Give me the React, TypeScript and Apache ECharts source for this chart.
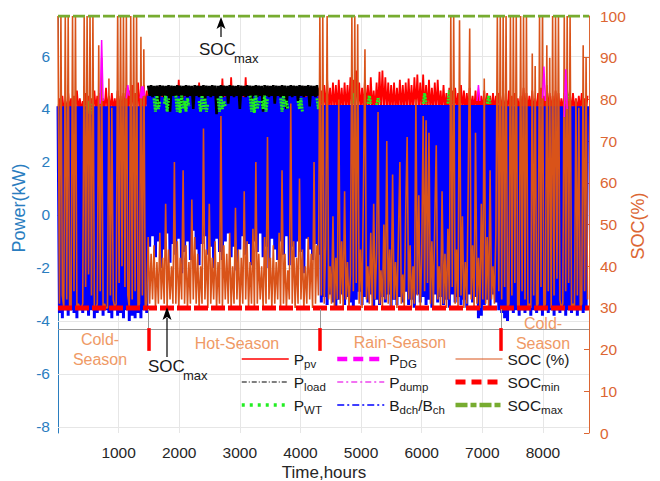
import React, { useEffect, useRef } from "react";
import * as echarts from "echarts";

// ---------- data (one value per day, 24 h step) ----------
const STEP_HOURS = 24;
const X_MAX = 8760;
const DAY_COLD1 = 0;
const DAY_HOT = 62;
const DAY_RAIN = 180;
const DAY_COLD2 = 304;

const xTicks = [1000, 2000, 3000, 4000, 5000, 6000, 7000, 8000];
const leftTicks = [-8, -6, -4, -2, 0, 2, 4, 6];
const seasonBoundaries = [1490, 4325, 7310];

// SOC (%) right axis
const socCold1 = [
  100, 31, 100, 33, 30, 100, 32, 100, 30, 30,
  100, 34, 100, 30, 31, 30, 30, 31, 100, 35,
  100, 38, 100, 33, 100, 30, 30, 31, 93, 34,
  90, 30, 31, 30, 30, 85, 33, 78, 32, 30,
  31, 100, 36, 100, 40, 100, 35, 100, 33, 30,
  100, 32, 100, 34, 100, 30, 31, 95, 33, 92,
  30, 31,
];
const socHot = [
  47, 31, 43, 32, 45, 30, 41, 31, 48, 32,
  42, 31, 55, 30, 44, 32, 40, 31, 65, 31,
  46, 30, 42, 32, 63, 31, 45, 30, 41, 31,
  56, 32, 47, 31, 43, 30, 40, 31, 73, 32,
  44, 30, 55, 31, 42, 32, 46, 30, 41, 31,
  76, 30, 45, 32, 43, 31, 48, 30, 40, 31,
  54, 32, 44, 30, 42, 31, 58, 32, 46, 30,
  41, 31, 49, 30, 65, 31, 43, 32, 40, 30,
  47, 31, 71, 32, 42, 30, 45, 31, 41, 32,
  48, 30, 63, 31, 43, 30, 39, 32, 79, 31,
  46, 30, 42, 31, 61, 32, 44, 30, 40, 31,
  47, 32, 43, 30, 65, 31, 45, 33,
];
const socRain = [
  100, 33, 100, 31, 45, 100, 32, 40, 31, 52,
  30, 42, 32, 80, 31, 46, 30, 58, 32, 41,
  30, 38, 100, 34, 100, 36, 98, 31, 44, 30,
  60, 92, 32, 40, 31, 48, 30, 55, 32, 43,
  77, 31, 39, 30, 50, 32, 70, 31, 44, 30,
  62, 32, 41, 30, 47, 65, 31, 38, 30, 53,
  71, 32, 45, 30, 40, 31, 80, 33, 57, 30,
  42, 76, 34, 75, 36, 72, 31, 46, 30, 51,
  69, 32, 40, 30, 58, 31, 43, 30, 49, 32,
  100, 35, 100, 31, 44, 30, 99, 33, 52, 30,
  41, 31, 60, 97, 32, 45, 30, 72, 31, 42,
  30, 55, 32, 85, 31, 47, 30, 63, 32, 40,
  31, 48, 100, 34,
];
const socCold2 = [
  100, 32, 100, 35, 100, 30, 31, 100, 33, 100,
  36, 100, 30, 30, 100, 34, 100, 32, 100, 30,
  31, 30, 91, 33, 88, 30, 31, 100, 35, 100,
  30, 31, 93, 34, 90, 30, 100, 33, 100, 37,
  100, 32, 30, 31, 100, 34, 100, 36, 100, 30,
  31, 30, 80, 33, 78, 30, 31, 93, 34, 90,
  32,
];

// Battery discharge / charge (kW)
const batCold1 = [
  4.1, -3.7, 4.1, -3.9, 4.1, -3.6, 4.1, -3.8, 4.1, -3.6,
  4.1, -3.7, 4.1, -3.9, 4.1, -3.6, 4.1, -3.7, 4.1, -3.6,
  4.1, -3.8, 4.1, -3.6, 4.1, -3.9, 4.1, -3.7, 4.1, -3.6,
  4.1, -3.8, 4.1, -3.6, 4.1, -3.7, 4.1, -3.9, 4.1, -3.6,
  4.1, -3.8, 4.1, -3.7, 4.1, -3.9, 4.1, -3.6, 4.1, -4.0,
  4.1, -3.8, 4.1, -3.9, 4.1, -3.7, 4.1, -3.9, 4.1, -3.6,
  4.1, -3.7,
];
const batHot = [
  4.5, -1.2, 4.55, -0.8, 4.5, -1.6, 4.6, -1.0, 4.5, -2.0,
  4.45, -1.3, 4.5, -0.7, 4.55, -1.8, 4.5, -1.1, 4.6, -1.5,
  4.5, -0.9, 4.5, -2.2, 4.45, -1.4, 4.5, -1.0, 4.55, -1.7,
  4.5, -0.6, 4.6, -1.3, 4.5, -1.9, 4.5, -1.1, 4.45, -0.8,
  4.5, -1.5, 4.55, -1.2, 4.5, -2.0, 4.6, -0.9, 4.5, -1.4,
  4.5, -1.7, 4.45, -1.0, 4.5, -0.7, 4.55, -1.6, 4.5, -1.2,
  4.6, -2.1, 4.5, -1.3, 4.5, -0.8, 4.45, -1.5, 4.5, -1.1,
  4.55, -1.9, 4.5, -1.0, 4.6, -1.4, 4.5, -0.7, 4.5, -1.6,
  4.45, -1.2, 4.5, -2.0, 4.55, -0.9, 4.5, -1.3, 4.6, -1.7,
  4.5, -1.0, 4.5, -1.5, 4.45, -0.8, 4.5, -1.9, 4.55, -1.2,
  4.5, -1.6, 4.6, -1.0, 4.5, -1.4, 4.5, -2.2, 4.45, -0.9,
  4.5, -1.3, 4.55, -1.7, 4.5, -1.1, 4.5, -1.5,
];
const batRain = [
  4.15, -3.3, 4.15, -3.1, 4.15, -3.4, 4.15, -3.0, 4.15, -3.3,
  4.15, -3.5, 4.15, -3.2, 4.15, -3.0, 4.15, -3.4, 4.15, -3.1,
  4.15, -3.3, 4.15, -3.5, 4.15, -3.2, 4.15, -2.9, 4.15, -3.4,
  4.15, -3.1, 4.15, -3.3, 4.15, -3.0, 4.15, -3.5, 4.15, -3.2,
  4.15, -3.4, 4.15, -3.1, 4.15, -3.3, 4.15, -3.0, 4.15, -3.5,
  4.15, -3.2, 4.15, -3.4, 4.15, -3.1, 4.15, -3.3, 4.15, -2.9,
  4.15, -3.4, 4.15, -3.2, 4.15, -3.5, 4.15, -3.0, 4.15, -3.3,
  4.15, -3.1, 4.15, -3.4, 4.15, -3.2, 4.15, -3.5, 4.15, -3.0,
  4.15, -3.3, 4.15, -3.1, 4.15, -3.4, 4.15, -3.2, 4.15, -3.5,
  4.15, -3.0, 4.15, -3.3, 4.15, -3.1, 4.15, -3.4, 4.15, -3.2,
  4.15, -3.5, 4.15, -3.0, 4.15, -3.3, 4.15, -3.1, 4.15, -3.9,
  4.15, -3.8, 4.15, -3.4, 4.15, -3.2, 4.15, -3.5, 4.15, -3.0,
  4.15, -3.3, 4.15, -3.6,
];
const batCold2 = [
  4.1, -3.7, 4.1, -3.9, 4.1, -4.0, 4.1, -3.6, 4.1, -3.7,
  4.1, -3.6, 4.1, -3.8, 4.1, -3.6, 4.1, -3.7, 4.1, -3.6,
  4.1, -3.8, 4.1, -3.6, 4.1, -3.7, 4.1, -3.6, 4.1, -3.8,
  4.1, -3.6, 4.1, -3.7, 4.1, -3.6, 4.1, -3.8, 4.1, -3.6,
  4.1, -3.7, 4.1, -3.6, 4.1, -3.8, 4.1, -3.6, 4.1, -3.7,
  4.1, -3.6, 4.1, -3.8, 4.1, -3.6, 4.1, -3.7, 4.1, -3.6,
  4.1,
];

// PV power (kW)
const pvCold1 = [
  3.9, 4.4, 3.9, 4.5, 3.9, 4.3, 3.9, 4.6, 3.9, 4.4,
  3.9, 4.5, 3.9, 4.7, 3.9, 4.4, 3.9, 4.3, 3.9, 4.6,
  3.9, 4.5, 3.9, 4.4, 3.9, 4.7, 3.9, 4.5, 3.9, 4.6,
  3.9, 4.4, 3.9, 4.8, 3.9, 4.5, 3.9, 4.6, 3.9, 4.4,
  3.9, 4.7, 3.9, 4.5, 3.9, 4.6, 3.9, 4.8, 3.9, 4.7,
  3.9, 4.9, 3.9, 4.6, 3.9, 5.0, 3.9, 4.8, 3.9, 4.9,
  3.9, 4.7,
];
const pvHot = [
  3.9, 4.8, 3.9, 4.75, 3.9, 4.8, 3.9, 4.85, 3.9, 4.8,
  3.9, 4.75, 3.9, 4.8, 3.9, 4.85, 3.9, 4.8, 3.9, 4.75,
  3.9, 5.1, 3.9, 4.8, 3.9, 4.85, 3.9, 4.8, 3.9, 4.75,
  3.9, 4.8, 3.9, 4.85, 3.9, 5.0, 3.9, 4.8, 3.9, 4.75,
  3.9, 4.8, 3.9, 4.85, 3.9, 4.8, 3.9, 4.75, 3.9, 4.8,
  3.9, 5.15, 3.9, 4.8, 3.9, 4.85, 3.9, 5.2, 3.9, 4.8,
  3.9, 4.75, 3.9, 4.8, 3.9, 4.85, 3.9, 5.2, 3.9, 4.8,
  3.9, 4.75, 3.9, 4.8, 3.9, 4.85, 3.9, 4.8, 3.9, 4.75,
  3.9, 4.8, 3.9, 4.85, 3.9, 4.8, 3.9, 4.75, 3.9, 4.8,
  3.9, 4.85, 3.9, 4.8, 3.9, 4.75, 3.9, 4.8, 3.9, 4.85,
  3.9, 4.8, 3.9, 4.75, 3.9, 4.8, 3.9, 4.85, 3.9, 4.8,
  3.9, 4.75, 3.9, 4.8, 3.9, 4.85, 3.9, 4.8,
];
const pvRain = [
  3.9, 4.7, 3.9, 4.9, 3.9, 5.1, 3.9, 4.8, 3.9, 5.0,
  3.9, 4.9, 3.9, 5.1, 3.9, 4.8, 3.9, 5.0, 3.9, 4.9,
  3.9, 5.2, 3.9, 5.1, 3.9, 5.45, 3.9, 5.0, 3.9, 4.8,
  3.9, 5.1, 3.9, 4.9, 3.9, 5.2, 3.9, 4.7, 3.9, 5.0,
  3.9, 5.4, 3.9, 5.45, 3.9, 5.2, 3.9, 5.0, 3.9, 4.9,
  3.9, 5.0, 3.9, 4.8, 3.9, 5.1, 3.9, 4.9, 3.9, 5.0,
  3.9, 5.15, 3.9, 4.9, 3.9, 5.2, 3.9, 5.3, 3.9, 5.0,
  3.9, 5.3, 3.9, 4.9, 3.9, 5.1, 3.9, 4.8, 3.9, 5.0,
  3.9, 5.1, 3.9, 4.7, 3.9, 4.9, 3.9, 4.6, 3.9, 4.8,
  3.9, 4.7, 3.9, 4.8, 3.9, 4.6, 3.9, 4.9, 3.9, 4.7,
  3.9, 4.6, 3.9, 4.8, 3.9, 4.5, 3.9, 4.7, 3.9, 4.6,
  3.9, 4.5, 3.9, 4.7, 3.9, 4.6, 3.9, 4.5, 3.9, 4.6,
  3.9, 4.5, 3.9, 4.6,
];
const pvCold2 = [
  4.5, 3.9, 4.6, 3.9, 4.4, 3.9, 4.7, 3.9, 4.5, 3.9,
  4.6, 3.9, 4.4, 3.9, 4.5, 3.9, 4.8, 3.9, 4.6, 3.9,
  4.5, 3.9, 4.7, 3.9, 4.4, 3.9, 4.6, 3.9, 4.8, 3.9,
  4.5, 3.9, 4.9, 3.9, 4.6, 3.9, 4.5, 3.9, 4.7, 3.9,
  4.6, 3.9, 4.4, 3.9, 4.6, 3.9, 4.7, 3.9, 4.5, 3.9,
  4.6, 3.9, 4.4, 3.9, 4.5, 3.9, 4.6, 3.9, 4.4, 3.9,
  4.5,
];

// Load (kW), visible during the hot season
const loadHot = [
  4.88, 4.5, 4.9, 4.45, 4.87, 4.5, 4.88, 4.1, 4.9, 4.5,
  4.88, 4.45, 4.87, 4.5, 4.9, 3.9, 4.88, 4.5, 4.87, 4.45,
  4.9, 4.5, 4.88, 4.2, 4.87, 4.5, 4.9, 4.45, 4.88, 4.5,
  4.87, 4.0, 4.9, 4.5, 4.88, 4.45, 4.87, 4.5, 4.9, 4.3,
  4.88, 4.5, 4.87, 4.45, 4.9, 4.5, 4.88, 3.8, 4.87, 4.5,
  4.9, 4.45, 4.88, 4.5, 4.87, 4.2, 4.9, 4.5, 4.88, 4.45,
  4.87, 4.5, 4.9, 4.0, 4.88, 4.5, 4.87, 4.45, 4.9, 4.5,
  4.88, 4.3, 4.87, 4.5, 4.9, 4.45, 4.88, 4.5, 4.87, 3.9,
  4.9, 4.5, 4.88, 4.45, 4.87, 4.5, 4.9, 4.2, 4.88, 4.5,
  4.87, 4.45, 4.9, 4.5, 4.88, 4.0, 4.87, 4.5, 4.9, 4.45,
  4.88, 4.5, 4.87, 4.3, 4.9, 4.5, 4.88, 4.45, 4.87, 4.5,
  4.9, 4.1, 4.88, 4.5, 4.87, 4.45, 4.9, 4.5,
];

// Wind power (kW): [start day, daily values]
const pwtSegments: [number, number[]][] = [
  [20, [3.9, 4.3, 3.8, 4.2]],
  [66, [4.4, 3.9, 4.5, 4.0, 4.3]],
  [73, [4.2, 4.5, 3.9, 4.4]],
  [81, [4.5, 3.9, 4.4, 3.85, 4.5, 4.0, 4.3, 3.9, 4.4, 4.1]],
  [97, [4.3, 3.9, 4.5, 4.0, 4.4, 3.9, 4.2]],
  [110, [4.4, 3.9, 4.5, 4.0, 4.3, 4.1]],
  [132, [4.5, 3.9, 4.4, 3.85, 4.5, 4.0, 4.3]],
  [140, [4.3, 4.0, 4.5, 3.9, 4.4]],
  [153, [4.4, 3.9, 4.5, 4.1, 4.3, 4.0]],
  [165, [4.3, 4.0, 4.4, 3.9]],
  [178, [4.4, 4.0, 4.3]],
  [202, [4.2, 4.6, 4.2]],
  [213, [4.2, 4.5, 4.2]],
  [219, [4.15, 4.4, 4.2]],
  [251, [4.2, 4.6, 4.2]],
  [268, [4.2, 4.7, 4.25]],
  [295, [4.2, 4.5, 4.2]],
  [349, [4.2, 4.6, 4.3]],
];
// Dump load and diesel generator (kW)
const dumpSegments: [number, number[]][] = [
  [29, [4.2, 6.6, 4.3]],
  [47, [4.4, 4.9, 4.5]],
  [288, [4.3, 4.9, 4.3]],
  [333, [4.4, 5.6, 4.3]],
  [348, [3.7, 5.5, 4.0]],
];
const dgSegments: [number, number[]][] = [[57, [4.4, 4.85, 4.5]]];

const socMinValue = 30;
const socMaxValue = 100;

// ---------- helpers ----------
function toSeries(startDay: number, values: number[]) {
  return values.map((v, i) => [(startDay + i) * STEP_HOURS, v]);
}
function fromSegments(segs: [number, number[]][]) {
  const out: any[] = [];
  segs.forEach(([d, vals], k) => {
    if (k > 0) out.push([d * STEP_HOURS - STEP_HOURS / 2, "-"]);
    vals.forEach((v, i) => out.push([(d + i) * STEP_HOURS, v]));
  });
  return out;
}

const FONT = '"Liberation Sans", Arial, Helvetica, sans-serif';
const LEFT_COLOR = "#2a7dbf";
const RIGHT_COLOR = "#dc6633";
const SEASON_COLOR = "#ef9a66";

const legendNames: Record<string, string> = {
  Ppv: "{m|P}{s|pv}",
  Pload: "{m|P}{s|load}",
  PWT: "{m|P}{s|WT}",
  PDG: "{m|P}{s|DG}",
  Pdump: "{m|P}{s|dump}",
  Bdch: "{m|B}{s|dch}{m|/B}{s|ch}",
  SOC: "{m|SOC (%)}{s| }",
  SOCmin: "{m|SOC}{s|min}",
  SOCmax: "{m|SOC}{s|max}",
};

export default function App() {
  const ref = useRef<HTMLDivElement>(null);

  useEffect(() => {
    document.body.style.margin = "0";
    if (!ref.current) return;
    const chart = echarts.init(ref.current, undefined, { renderer: "svg" });

    const socData = [
      ...toSeries(DAY_COLD1, socCold1),
      ...toSeries(DAY_HOT, socHot),
      ...toSeries(DAY_RAIN, socRain),
      ...toSeries(DAY_COLD2, socCold2),
    ];
    const batData = [
      ...toSeries(DAY_COLD1, batCold1),
      ...toSeries(DAY_HOT, batHot),
      ...toSeries(DAY_RAIN, batRain),
      ...toSeries(DAY_COLD2, batCold2),
    ];
    const pvData = [
      ...toSeries(DAY_COLD1, pvCold1),
      ...toSeries(DAY_HOT, pvHot),
      ...toSeries(DAY_RAIN, pvRain),
      ...toSeries(DAY_COLD2, pvCold2),
    ];
    const loadData = toSeries(DAY_HOT, loadHot);

    const rich = {
      m: { fontSize: 15.5, color: "#1a1a1a", lineHeight: 16, fontFamily: FONT },
      s: { fontSize: 11.5, color: "#1a1a1a", lineHeight: 16, padding: [10, 0, 0, 0], fontFamily: FONT },
    };
    const hideSymbol = { opacity: 0, borderWidth: 0 };
    const mkLegend = (left: number, items: any[]) => ({
      left,
      top: 348,
      orient: "vertical",
      padding: 0,
      itemWidth: 47,
      itemHeight: 14,
      itemGap: 1,
      selectedMode: false,
      data: items.map((it) => ({ ...it, itemStyle: hideSymbol })),
      formatter: (n: string) => legendNames[n] || n,
      textStyle: { rich, fontFamily: FONT },
    });

    const base = (name: string, data: any[], color: string, width: number, yAxisIndex = 0, extra: any = {}) => ({
      name,
      type: "line",
      data,
      yAxisIndex,
      symbol: "none",
      showSymbol: false,
      silent: true,
      animation: false,
      emphasis: { disabled: true },
      lineStyle: { color, width },
      itemStyle: { color },
      ...extra,
    });

    const txt = (text: string, x: number, y: number, size: number, color: string, align = "center", rotation = 0) => ({
      type: "text",
      x,
      y,
      rotation,
      z: 100,
      silent: true,
      style: {
        text,
        fill: color,
        font: `${size}px ${FONT}`,
        align,
        verticalAlign: "middle",
        textAlign: align,
        textVerticalAlign: "middle",
      },
    });

    const option: any = {
      animation: false,
      textStyle: { fontFamily: FONT },
      grid: { left: 58, right: 71, top: 16, bottom: 48 },
      xAxis: {
        type: "value",
        min: 0,
        max: X_MAX,
        interval: 1000,
        axisLine: { lineStyle: { color: "#8c8c8c" } },
        axisTick: { inside: true, length: 5, customValues: xTicks, lineStyle: { color: "#777" } },
        axisLabel: {
          customValues: xTicks,
          color: "#262626",
          fontSize: 15.5,
          margin: 11,
          formatter: (v: number) => String(v),
        },
        splitLine: { show: true, lineStyle: { color: "#e6e6e6", width: 1 } },
      },
      yAxis: [
        {
          type: "value",
          min: -8.23,
          max: 7.51,
          position: "left",
          axisLine: { show: true, lineStyle: { color: LEFT_COLOR } },
          axisTick: { show: true, inside: true, length: 5, customValues: leftTicks, lineStyle: { color: LEFT_COLOR } },
          axisLabel: { customValues: leftTicks, color: LEFT_COLOR, fontSize: 15.5, margin: 8 },
          splitLine: { show: false },
        },
        {
          type: "value",
          min: 0,
          max: 100,
          interval: 10,
          position: "right",
          axisLine: { show: true, lineStyle: { color: RIGHT_COLOR } },
          axisTick: { show: true, inside: true, length: 5, lineStyle: { color: RIGHT_COLOR } },
          axisLabel: { color: RIGHT_COLOR, fontSize: 15.5, margin: 11 },
          splitLine: { show: false },
        },
      ],
      legend: [
        mkLegend(240, [
          { name: "Ppv", lineStyle: { color: "#ff0000", width: 1.6, type: "solid" } },
          { name: "Pload", lineStyle: { color: "#000000", width: 1.2, type: [5, 2, 1, 2] } },
          { name: "PWT", lineStyle: { color: "#22ee22", width: 3.5, type: [3, 5] } },
        ]),
        mkLegend(335, [
          { name: "PDG", lineStyle: { color: "#ff00ff", width: 4.5, type: [10, 6] } },
          { name: "Pdump", lineStyle: { color: "#ee44ee", width: 1.5, type: [6, 3, 2, 3] } },
          { name: "Bdch", lineStyle: { color: "#0000ff", width: 1.5, type: [7, 3, 2, 3] } },
        ]),
        mkLegend(453, [
          { name: "SOC", lineStyle: { color: "#D95319", width: 1, type: "solid" } },
          { name: "SOCmin", lineStyle: { color: "#ff0000", width: 5, type: [10, 6] } },
          { name: "SOCmax", lineStyle: { color: "#77AC30", width: 4.5, type: [12, 3, 6, 3] } },
        ]),
      ],
      graphic: [
        txt("Power(kW)", 19, 208, 18, LEFT_COLOR, "center", Math.PI / 2),
        txt("SOC(%)", 638, 226, 18, RIGHT_COLOR, "center", Math.PI / 2),
        txt("Time,hours", 324, 472, 17, "#262626"),
        txt("Cold-", 100, 339, 16, SEASON_COLOR),
        txt("Season", 100, 359, 16, SEASON_COLOR),
        txt("Hot-Season", 237, 343, 16, SEASON_COLOR),
        txt("Rain-Season", 400, 342, 16, SEASON_COLOR),
        txt("Cold-", 543, 323, 16, SEASON_COLOR),
        txt("Season", 543, 343, 16, SEASON_COLOR),
        txt("SOC", 199, 49, 17, "#1a1a1a", "left"),
        txt("max", 234, 58, 13, "#1a1a1a", "left"),
        txt("SOC", 148, 366, 17, "#1a1a1a", "left"),
        txt("max", 183, 375, 13, "#1a1a1a", "left"),
        { type: "line", z: 100, silent: true, shape: { x1: 221, y1: 37, x2: 221, y2: 26 }, style: { stroke: "#000", lineWidth: 1.2 } },
        { type: "polygon", z: 100, silent: true, shape: { points: [[221, 17], [225.5, 29], [221, 26], [216.5, 29]] }, style: { fill: "#000" } },
        { type: "line", z: 100, silent: true, shape: { x1: 167, y1: 357, x2: 167, y2: 318 }, style: { stroke: "#000", lineWidth: 1.2 } },
        { type: "polygon", z: 100, silent: true, shape: { points: [[167, 307], [171.5, 320], [167, 317], [162.5, 320]] }, style: { fill: "#000" } },
      ],
      series: [
        base("Ppv", pvData, "#ff0000", 1.8, 0, {
          markLine: {
            z: 1,
            silent: true,
            symbol: "none",
            animation: false,
            label: { show: false },
            lineStyle: { color: "#e6e6e6", width: 1, type: "solid" },
            data: leftTicks.map((v) => ({ yAxis: v })),
          },
        }),
        base("Bdch", batData, "#0000ff", 3),
        base("Pload", loadData, "#000000", 2.6),
        base("PWT", fromSegments(pwtSegments), "#22ee22", 3, 0, {
          lineStyle: { color: "#22ee22", width: 3, type: [2, 1] },
        }),
        base("SOC", socData, "#D95319", 1.6, 1),
        base("PDG", fromSegments(dgSegments), "#ff00ff", 3),
        base("Pdump", fromSegments(dumpSegments), "#ff00ff", 1.5, 0, {
          markLine: {
            silent: true,
            symbol: "none",
            animation: false,
            label: { show: false },
            data: [
              [{ coord: [0, -4.3], lineStyle: { color: "#9a9a9a", width: 1, type: "solid" } }, { coord: [X_MAX, -4.3] }],
              ...seasonBoundaries.map((b) => [
                { coord: [b, -3.55], lineStyle: { color: "#9a9a9a", width: 1, type: "solid" } },
                { coord: [b, -4.27] },
              ]),
              ...seasonBoundaries.map((b) => [
                { coord: [b, -4.27], lineStyle: { color: "#ff0000", width: 3.5, type: "solid" } },
                { coord: [b, -5.13] },
              ]),
            ],
          },
        }),
        base("SOCmin", [[0, socMinValue], [X_MAX, socMinValue]], "#ff0000", 5, 1, {
          lineStyle: { color: "#ff0000", width: 5, type: [14, 3] },
        }),
        base("SOCmax", [[0, socMaxValue], [X_MAX, socMaxValue]], "#77AC30", 3, 1, {
          lineStyle: { color: "#77AC30", width: 3, type: [12, 3] },
        }),
      ],
    };

    chart.setOption(option);
    return () => chart.dispose();
  }, []);

  return <div ref={ref} style={{ width: 660, height: 481 }} />;
}
